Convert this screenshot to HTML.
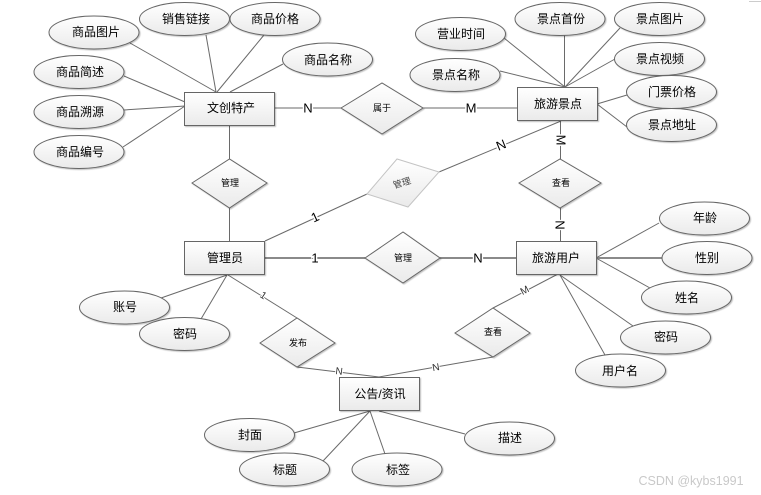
<!DOCTYPE html>
<html lang="zh">
<head>
<meta charset="utf-8">
<style>
html,body{margin:0;padding:0;background:#fff}
svg{display:block}
text{font-family:"Liberation Sans","Noto Sans CJK SC",sans-serif;fill:#000;text-anchor:middle;dominant-baseline:central}
.l line,.l polyline{stroke:#6a6a6a;stroke-width:1;fill:none}
.n ellipse,.n rect,.n polygon{fill:url(#g);stroke:#666;stroke-width:1;filter:url(#s)}
.t{font-size:12px}
.d{font-size:9px}
.c{font-size:13px;paint-order:stroke;stroke:#fff;stroke-width:3px}
.cs{font-size:10px;paint-order:stroke;stroke:#fff;stroke-width:2px;fill:#333}
</style>
</head>
<body>
<svg width="761" height="495" viewBox="0 0 761 495" xmlns="http://www.w3.org/2000/svg">
<defs>
<linearGradient id="g" x1="0" y1="0" x2="0" y2="1"><stop offset="0" stop-color="#ffffff"/><stop offset="1" stop-color="#eaeaea"/></linearGradient>
<filter id="s" x="-10%" y="-10%" width="125%" height="130%"><feDropShadow dx="1" dy="1" stdDeviation="0.6" flood-color="#000" flood-opacity="0.25"/></filter>
</defs>
<rect width="761" height="495" fill="#fff"/>
<line x1="749" y1="1.5" x2="761" y2="1.5" stroke="#ccc"/>
<g class="l">
<line x1="130" y1="43" x2="216" y2="92"/>
<line x1="206" y1="35" x2="216" y2="92"/>
<line x1="264" y1="35" x2="217" y2="92"/>
<line x1="283" y1="64" x2="230" y2="92"/>
<line x1="124" y1="76" x2="185" y2="102"/>
<line x1="124" y1="110" x2="185" y2="106"/>
<line x1="123" y1="147" x2="185" y2="106"/>
<line x1="275" y1="108" x2="341" y2="108"/>
<line x1="423" y1="108" x2="517" y2="108"/>
<line x1="229.500" y1="125" x2="229.500" y2="159"/>
<line x1="229.500" y1="208" x2="229.500" y2="241"/>
<line x1="265" y1="241" x2="367" y2="194"/>
<line x1="439" y1="172" x2="561" y2="121"/>
<line x1="560.500" y1="120" x2="560.500" y2="159"/>
<line x1="560.500" y1="208" x2="560.500" y2="241"/>
<line x1="504" y1="38" x2="565" y2="87"/>
<line x1="564.500" y1="35" x2="564.500" y2="87"/>
<line x1="620" y1="28" x2="565" y2="87"/>
<line x1="615" y1="59" x2="565" y2="87"/>
<line x1="500" y1="71" x2="565" y2="87"/>
<line x1="627" y1="95" x2="597" y2="104"/>
<line x1="627" y1="127" x2="597" y2="104"/>
<line x1="659" y1="223" x2="596" y2="258"/>
<line x1="596" y1="258" x2="650" y2="288"/>
<line x1="560" y1="275" x2="633" y2="326"/>
<line x1="560" y1="275" x2="605" y2="355"/>
<line x1="265" y1="258" x2="365" y2="258" style="stroke-width:2;stroke:#8a8a8a"/>
<line x1="440" y1="258" x2="516" y2="258" style="stroke-width:2;stroke:#8a8a8a"/>
<line x1="596" y1="258" x2="662" y2="258" style="stroke-width:2;stroke:#8a8a8a"/>
<line x1="228" y1="275" x2="297" y2="318"/>
<line x1="297" y1="367" x2="379" y2="377"/>
<line x1="379" y1="377" x2="493" y2="357"/>
<line x1="493" y1="308" x2="558" y2="274"/>
<line x1="227" y1="275" x2="161" y2="298"/>
<line x1="227" y1="275" x2="201" y2="319"/>
<line x1="370" y1="411" x2="294" y2="433"/>
<line x1="370" y1="411" x2="323" y2="461"/>
<line x1="370" y1="411" x2="385" y2="454"/>
<line x1="379" y1="411" x2="465" y2="434"/>
</g>
<g class="n">
<ellipse cx="94" cy="32.500" rx="45" ry="16.500"/>
<ellipse cx="184.500" cy="19" rx="45" ry="16.500"/>
<ellipse cx="275" cy="19" rx="45" ry="16.500"/>
<ellipse cx="327.500" cy="59.500" rx="45" ry="16.500"/>
<ellipse cx="79" cy="72" rx="45" ry="16.500"/>
<ellipse cx="79" cy="112" rx="45" ry="16.500"/>
<ellipse cx="79" cy="152" rx="45" ry="16.500"/>
<ellipse cx="460.500" cy="34" rx="45" ry="16.500"/>
<ellipse cx="560" cy="19" rx="45" ry="16.500"/>
<ellipse cx="659.500" cy="19" rx="45" ry="16.500"/>
<ellipse cx="659.500" cy="59" rx="45" ry="16.500"/>
<ellipse cx="671.500" cy="92" rx="45" ry="16.500"/>
<ellipse cx="671.500" cy="125" rx="45" ry="16.500"/>
<ellipse cx="455" cy="75" rx="45" ry="16.500"/>
<ellipse cx="704.500" cy="218.500" rx="45" ry="16.500"/>
<ellipse cx="707" cy="258" rx="45" ry="16.500"/>
<ellipse cx="686.500" cy="297.500" rx="45" ry="16.500"/>
<ellipse cx="665.500" cy="337.500" rx="45" ry="16.500"/>
<ellipse cx="620.500" cy="370.500" rx="45" ry="16.500"/>
<ellipse cx="124.500" cy="307.500" rx="45" ry="16.500"/>
<ellipse cx="184.500" cy="334" rx="45" ry="16.500"/>
<ellipse cx="249.500" cy="435" rx="45" ry="16.500"/>
<ellipse cx="284.500" cy="469.500" rx="45" ry="16.500"/>
<ellipse cx="397" cy="469.500" rx="45" ry="16.500"/>
<ellipse cx="509.500" cy="438.500" rx="45" ry="16.500"/>
<rect x="184.500" y="92.500" width="90" height="33"/>
<rect x="184.500" y="241.500" width="80" height="33"/>
<rect x="517.500" y="87.500" width="80" height="33"/>
<rect x="516.500" y="241.500" width="80" height="33"/>
<rect x="339.500" y="377.500" width="80" height="33"/>
<polygon points="341,108 382,83 423,108 382,134"/>
<polygon points="192,183 229.500,159 267,183 229.500,208"/>
<polygon points="519,183 560,159 601,183 560,208"/>
<polygon points="365,258 403,232 440,258 403,283"/>
<polygon points="455,333 493,308 530,333 493,357"/>
<polygon points="260,343 297,318 335,343 297,367"/>
<polygon points="367,194 397,159 439,172 408,207" style="stroke:#c4c4c4;filter:none"/>
</g>
<g class="t">
<text x="96" y="32">商品图片</text>
<text x="186" y="19">销售链接</text>
<text x="275" y="19">商品价格</text>
<text x="328" y="60">商品名称</text>
<text x="80" y="72">商品简述</text>
<text x="80" y="112">商品溯源</text>
<text x="80" y="152">商品编号</text>
<text x="231" y="108">文创特产</text>
<text x="461" y="34">营业时间</text>
<text x="561" y="19">景点首份</text>
<text x="660" y="19">景点图片</text>
<text x="660" y="59">景点视频</text>
<text x="672" y="92">门票价格</text>
<text x="672" y="125">景点地址</text>
<text x="456" y="75">景点名称</text>
<text x="558" y="104">旅游景点</text>
<text x="225" y="258">管理员</text>
<text x="556" y="258">旅游用户</text>
<text x="380" y="394">公告/资讯</text>
<text x="705" y="218">年龄</text>
<text x="707" y="258">性别</text>
<text x="687" y="298">姓名</text>
<text x="666" y="337">密码</text>
<text x="620" y="371">用户名</text>
<text x="125" y="307">账号</text>
<text x="185" y="334">密码</text>
<text x="250" y="435">封面</text>
<text x="285" y="470">标题</text>
<text x="398" y="470">标签</text>
<text x="510" y="438">描述</text>
</g>
<g class="d">
<text x="382" y="108">属于</text>
<text x="230" y="183">管理</text>
<text x="561" y="183">查看</text>
<text x="403" y="258">管理</text>
<text x="493" y="332">查看</text>
<text x="298" y="343">发布</text>
<text x="402" y="183" transform="rotate(-17 402 183)" style="fill:#444">管理</text>
</g>
<g>
<text class="c" x="308" y="108">N</text>
<text class="c" x="471" y="108">M</text>
<text class="c" x="315" y="217" transform="rotate(-25 315 217)">1</text>
<text class="c" x="501" y="145" transform="rotate(-22 501 145)">N</text>
<text class="c" x="561" y="140" transform="rotate(90 561 140)">M</text>
<text class="c" x="560" y="225" transform="rotate(90 560 225)">N</text>
<text class="c" x="315" y="258">1</text>
<text class="c" x="478" y="258">N</text>
<text class="cs" x="263" y="296" transform="rotate(33 263 296)">1</text>
<text class="cs" x="339" y="372" transform="rotate(7 339 372)">N</text>
<text class="cs" x="436" y="368" transform="rotate(-10 436 368)">N</text>
<text class="cs" x="525" y="291" transform="rotate(-28 525 291)">M</text>
</g>
<text x="691" y="481" style="font-size:12.500px;fill:#c9c9c9">CSDN @kybs1991</text>
</svg>
</body>
</html>
